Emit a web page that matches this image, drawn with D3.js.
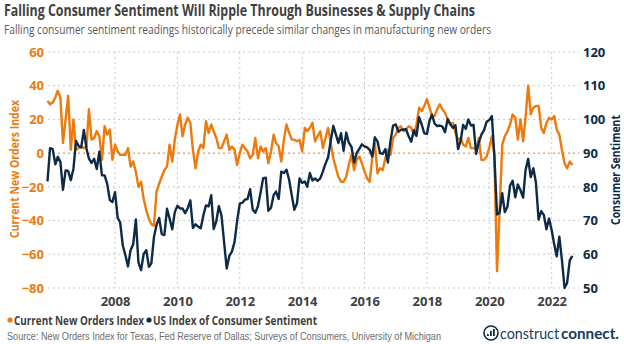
<!DOCTYPE html>
<html>
<head>
<meta charset="utf-8">
<script src="https://cdn.jsdelivr.net/npm/d3@7"></script>
<style>
  body { margin: 0; background: #fff; }
  svg { display: block; font-family: "Open Sans", sans-serif; }
</style>
</head>
<body>
<div id="chart"></div>
<script>
// monthly data, Nov 2005 .. Sep 2022
const firstMonth = "2005-11";

// Texas current new orders index (left axis)
const newOrders = [
  31, 29,
  30, 33, 37, 33, 6, 20, 34, 2, 20, 2, 3, 4,
  3, 4, 26, 8, 9, 13, 10, -4, 16, 11, 14, -4,
  5, 1, -1, -1, -1, 3, -8, -5, -11, -20, -17, -27,
  -34, -39, -42, -43, -23, -18, -14, -10, -8, 5, -5, 8,
  17, 23, 10, 17, 21, 18, 2, -9, 1, 5, 3, 19,
  12, 17, 13, 9, 3, 3, 7, 11, 2, 4, 2, -7,
  0, 5, 3, 1, -3, -1, 9, -3, 4, 1, 3, -6,
  1, 11, 6, 4, -5, 8, 17, 12, 8, 8, 7, 8,
  1, 15, 13, 15, 18, 7, 10, 13, 3, 9, 15, 6,
  -3, -9, -14, -17, -17, -14, -7, -1, -10, -4, -2, -6,
  -11, -15, -17, -3, 6, -12, -9, -10, -3, 2, -1, 9,
  11, 15, 16, 13, 14, 16, 15, 11, 17, 27, 25, 28,
  32, 27, 22, 22, 26, 29, 26, 24, 20, 17, 18, 12,
  8, 9, 5, 4, 9, 3, 3, 2, 9, -4, -4, -2,
  3, 10, -1, -70, -35, 5, 10, 13, 17, 23, 21, 8,
  20, 7, 21, 40, 23, 27, 28, 28, 15, 12, 18, 21,
  20, 22, 14, 11, 2, -6, -9, -5, -7
];

// US index of consumer sentiment (right axis)
const sentiment = [
  81.6, 91.5,
  91.2, 86.7, 88.9, 87.4, 79.1, 84.9, 84.7, 82.0, 85.4, 93.6, 92.1, 91.7,
  96.9, 91.3, 88.4, 87.1, 88.3, 85.3, 90.4, 83.4, 83.4, 80.9, 76.1, 75.5,
  78.4, 70.8, 69.5, 62.6, 59.8, 56.4, 61.2, 63.0, 70.3, 57.6, 55.3, 60.1,
  61.2, 56.3, 57.3, 65.1, 68.7, 70.8, 66.0, 65.7, 73.5, 70.6, 67.4, 72.5,
  74.4, 73.6, 73.6, 72.2, 73.6, 76.0, 67.8, 68.9, 68.2, 67.7, 71.6, 74.5,
  74.2, 77.5, 67.5, 69.8, 74.3, 71.5, 63.7, 55.8, 59.5, 60.8, 63.7, 69.9,
  75.0, 75.3, 76.2, 76.4, 79.3, 73.2, 72.3, 74.3, 78.3, 82.6, 82.7, 72.9,
  73.8, 77.6, 78.6, 76.4, 84.5, 84.1, 85.1, 82.1, 77.5, 73.2, 75.1, 82.5,
  81.2, 81.6, 80.0, 84.1, 81.9, 82.5, 81.8, 82.5, 84.6, 86.9, 88.8, 93.6,
  98.1, 95.4, 93.0, 95.9, 90.7, 96.1, 93.1, 91.9, 87.2, 90.0, 91.3, 92.6,
  92.0, 91.7, 91.0, 89.0, 94.7, 93.5, 90.0, 89.8, 91.2, 87.2, 93.8, 98.2,
  98.5, 96.3, 96.9, 97.0, 97.1, 95.0, 93.4, 96.8, 95.1, 100.7, 98.5, 95.9,
  95.7, 99.7, 101.4, 98.8, 98.0, 98.2, 97.9, 96.2, 100.1, 98.6, 97.5, 98.3,
  91.2, 93.8, 98.4, 97.2, 100.0, 98.2, 98.4, 89.8, 93.2, 95.5, 96.8, 99.3,
  99.8, 101.0, 89.1, 71.8, 72.3, 78.1, 72.5, 74.1, 80.4, 81.8, 76.9, 80.7,
  79.0, 76.8, 84.9, 88.3, 82.9, 85.5, 81.2, 70.3, 72.8, 71.7, 67.4, 70.6,
  67.2, 62.8, 59.4, 65.2, 58.4, 50.0, 51.5, 58.2, 59.5
];

const leftTicks = [60, 40, 20, 0, -20, -40, -60, -80];
const rightTicks = [120, 110, 100, 90, 80, 70, 60, 50];
const yearTicks = [2008, 2010, 2012, 2014, 2016, 2018, 2020, 2022];

const orange = "#ee7a0e";
const navy = "#0d2b47";
const grid = "#c9c9c9";
const textDark = "#3f3f3f";

const W = 624, H = 344;
const plot = {left: 47.5, right: 572.4, top: 52, bottom: 288};

const svg = d3.select("#chart").append("svg")
  .attr("width", W)
  .attr("height", H);

const start = d3.utcParse("%Y-%m")(firstMonth);
const monthOf = i => d3.utcMonth.offset(start, i);

const x = d3.scaleUtc()
  .domain([start, monthOf(newOrders.length - 1)])
  .range([plot.left, plot.right]);

const yL = d3.scaleLinear().domain([-80, 60]).range([plot.bottom, plot.top]);
const yR = d3.scaleLinear().domain([50, 120]).range([plot.bottom, plot.top]);

// horizontal gridlines
svg.append("g")
  .selectAll("line")
  .data(leftTicks)
  .join("line")
    .attr("x1", 48).attr("x2", 579)
    .attr("y1", d => yL(d)).attr("y2", d => yL(d))
    .attr("stroke", d => d === 0 ? orange : grid)
    .attr("stroke-width", 1)
    .attr("stroke-dasharray", "2,3");

// vertical gridlines at every other january
svg.append("g")
  .selectAll("line")
  .data(yearTicks)
  .join("line")
    .attr("x1", d => x(Date.UTC(d, 0, 1))).attr("x2", d => x(Date.UTC(d, 0, 1)))
    .attr("y1", plot.top).attr("y2", plot.bottom)
    .attr("stroke", grid)
    .attr("stroke-dasharray", "2,3");

// left axis
const leftAxis = svg.append("g")
  .attr("transform", "translate(44,0)")
  .call(d3.axisLeft(yL).tickValues(leftTicks).tickSize(0).tickPadding(0));
leftAxis.select(".domain").remove();
leftAxis.selectAll("text")
  .attr("fill", orange)
  .attr("font-family", "Open Sans")
  .attr("font-weight", 700)
  .attr("font-size", 13);

// right axis
const rightAxis = svg.append("g")
  .attr("transform", "translate(583,0)")
  .call(d3.axisRight(yR).tickValues(rightTicks).tickSize(0).tickPadding(0));
rightAxis.select(".domain").remove();
rightAxis.selectAll("text")
  .attr("fill", navy)
  .attr("font-family", "Open Sans")
  .attr("font-weight", 700)
  .attr("font-size", 13);

// bottom axis
const bottomAxis = svg.append("g")
  .attr("transform", "translate(0," + (plot.bottom + 5) + ")")
  .call(d3.axisBottom(x)
    .tickValues(yearTicks.map(d => new Date(Date.UTC(d, 0, 1))))
    .tickFormat(d3.utcFormat("%Y"))
    .tickSize(0).tickPadding(4));
bottomAxis.select(".domain").remove();
bottomAxis.selectAll("text")
  .attr("fill", textDark)
  .attr("font-family", "Open Sans")
  .attr("font-weight", 700)
  .attr("font-size", 13);

// axis titles
svg.append("text")
  .attr("transform", "translate(19,169) rotate(-90)")
  .attr("text-anchor", "middle")
  .attr("fill", orange)
  .attr("font-weight", 700)
  .attr("font-size", 12)
  .attr("textLength", 138)
  .attr("lengthAdjust", "spacingAndGlyphs")
  .text("Current New Orders Index");

svg.append("text")
  .attr("transform", "translate(620,170) rotate(-90)")
  .attr("text-anchor", "middle")
  .attr("fill", navy)
  .attr("font-weight", 700)
  .attr("font-size", 12)
  .attr("textLength", 110)
  .attr("lengthAdjust", "spacingAndGlyphs")
  .text("Consumer Sentiment");

// the two lines, sentiment drawn last (on top)
const ordersData = newOrders.map((v, i) => ({date: monthOf(i), v}));
const sentData = sentiment.map((v, i) => ({date: monthOf(i), v}));

svg.append("path")
  .datum(ordersData)
  .attr("fill", "none")
  .attr("stroke", orange)
  .attr("stroke-width", 2.4)
  .attr("stroke-linejoin", "round")
  .attr("d", d3.line().x(d => x(d.date)).y(d => yL(d.v)));

svg.append("path")
  .datum(sentData)
  .attr("fill", "none")
  .attr("stroke", navy)
  .attr("stroke-width", 2.4)
  .attr("stroke-linejoin", "round")
  .attr("d", d3.line().x(d => x(d.date)).y(d => yR(d.v)));

// titles
svg.append("text")
  .attr("x", 4).attr("y", 16)
  .attr("fill", textDark)
  .attr("font-weight", 700)
  .attr("font-size", 16)
  .attr("textLength", 471)
  .attr("lengthAdjust", "spacingAndGlyphs")
  .text("Falling Consumer Sentiment Will Ripple Through Businesses & Supply Chains");

svg.append("text")
  .attr("x", 4).attr("y", 34)
  .attr("fill", "#595959")
  .attr("font-size", 12.5)
  .attr("textLength", 487)
  .attr("lengthAdjust", "spacingAndGlyphs")
  .text("Falling consumer sentiment readings historically precede similar changes in manufacturing new orders");

// legend
const legend = [
  {label: "Current New Orders Index", color: orange, x: 8, w: 130},
  {label: "US Index of Consumer Sentiment", color: navy, x: 147, w: 164}
];
const lg = svg.append("g").selectAll("g").data(legend).join("g")
  .attr("transform", d => "translate(" + d.x + ",320)");
lg.append("circle").attr("r", 2.6).attr("cx", 2).attr("cy", 0).attr("fill", d => d.color);
lg.append("text")
  .attr("x", 6).attr("y", 4.5)
  .attr("fill", textDark)
  .attr("font-weight", 700)
  .attr("font-size", 11.5)
  .attr("textLength", d => d.w)
  .attr("lengthAdjust", "spacingAndGlyphs")
  .text(d => d.label);

// source
svg.append("text")
  .attr("x", 7).attr("y", 340)
  .attr("fill", "#6b6b6b")
  .attr("font-family", "Liberation Sans, Arial, sans-serif")
  .attr("font-size", 10)
  .attr("textLength", 434)
  .attr("lengthAdjust", "spacingAndGlyphs")
  .text("Source: New Orders Index for Texas, Fed Reserve of Dallas; Surveys of Consumers, University of Michigan");

// logo
const logo = svg.append("g").attr("transform", "translate(491,333)");
logo.append("circle").attr("r", 7).attr("fill", "none").attr("stroke", navy).attr("stroke-width", 1.6);
logo.selectAll("rect").data([[-4, 1, 4], [-1, -2, 7], [2, -4, 9]]).join("rect")
  .attr("x", d => d[0]).attr("y", d => d[1]).attr("width", 1.8).attr("height", d => d[2] - 2)
  .attr("fill", navy);
svg.append("text")
  .attr("x", 500).attr("y", 339)
  .attr("fill", "#173a5e")
  .attr("font-family", "Lato, sans-serif")
  .attr("font-size", 15.5)
  .attr("textLength", 59)
  .attr("lengthAdjust", "spacingAndGlyphs")
  .text("construct");
svg.append("text")
  .attr("x", 561).attr("y", 339)
  .attr("fill", "#173a5e")
  .attr("font-family", "Lato, sans-serif")
  .attr("font-weight", 700)
  .attr("font-size", 15.5)
  .attr("textLength", 58)
  .attr("lengthAdjust", "spacingAndGlyphs")
  .text("connect.");
</script>
</body>
</html>
